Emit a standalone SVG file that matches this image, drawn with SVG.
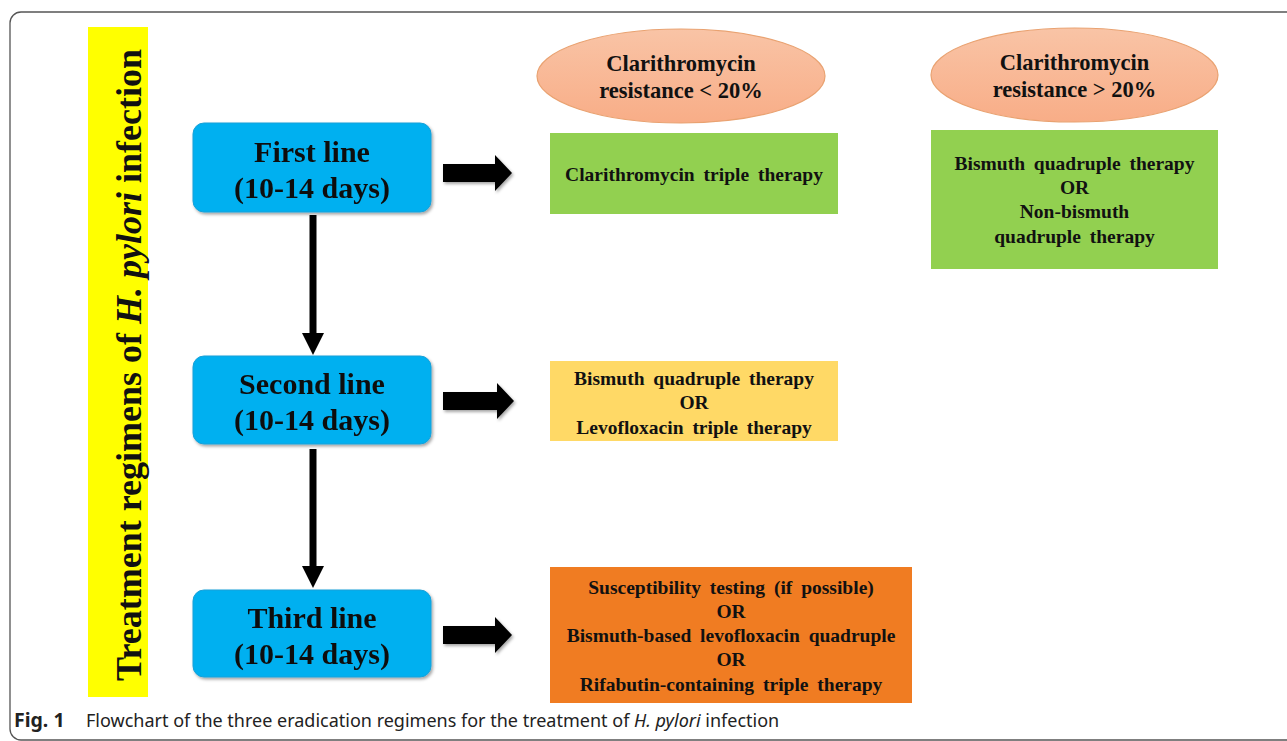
<svg xmlns="http://www.w3.org/2000/svg" width="1287" height="741" viewBox="0 0 1287 741">
<style>
.serif{font-family:"Liberation Serif","Times New Roman",serif;font-weight:bold;fill:#111;}
.line{font-size:30px;text-anchor:middle;}
.ell{font-size:22.5px;text-anchor:middle;}
.box{font-size:19.5px;text-anchor:middle;word-spacing:4px;}
.blue{fill:#00B0F0;stroke:#1aa0d8;stroke-width:1;}
.cap{font-family:"Noto Sans","Open Sans",sans-serif;font-size:18px;fill:#222;}
</style>
<defs>
<linearGradient id="salmon" x1="0" y1="0" x2="0" y2="1">
<stop offset="0" stop-color="#F9C4A6"/>
<stop offset="1" stop-color="#F8AD87"/>
</linearGradient>
<filter id="sh" x="-10%" y="-10%" width="130%" height="130%">
<feDropShadow dx="1.5" dy="2" stdDeviation="1.5" flood-color="#000" flood-opacity="0.35"/>
</filter>
</defs>
<rect x="0" y="0" width="1287" height="741" fill="#fff"/>
<rect x="10" y="12" width="1300" height="728" rx="11" fill="none" stroke="#555" stroke-width="1.3"/>

<g id="sidebar">
<rect x="88" y="27" width="60" height="670" fill="#FFFF00"/>
<text class="serif" font-size="36" text-anchor="middle" transform="translate(141,365) rotate(-90)">Treatment regimens of <tspan font-style="italic">H. pylori</tspan> infection</text>
</g>

<g id="first-line" filter="url(#sh)">
<rect class="blue" x="193" y="123" width="238" height="89" rx="11"/>
<text class="serif line" x="312" y="162">First line</text>
<text class="serif line" x="312" y="198">(10-14 days)</text>
</g>
<g id="second-line" filter="url(#sh)">
<rect class="blue" x="193" y="356" width="238" height="88" rx="11"/>
<text class="serif line" x="312" y="394">Second line</text>
<text class="serif line" x="312" y="430">(10-14 days)</text>
</g>
<g id="third-line" filter="url(#sh)">
<rect class="blue" x="193" y="590" width="238" height="87" rx="11"/>
<text class="serif line" x="312" y="628">Third line</text>
<text class="serif line" x="312" y="664">(10-14 days)</text>
</g>

<g id="ellipse-low">
<ellipse cx="681" cy="76" rx="144" ry="47" fill="url(#salmon)" stroke="#E9A271" stroke-width="1.2"/>
<text class="serif ell" x="681" y="71">Clarithromycin</text>
<text class="serif ell" x="681" y="98">resistance &lt; 20%</text>
</g>
<g id="ellipse-high">
<ellipse cx="1074.5" cy="75" rx="143.5" ry="47" fill="url(#salmon)" stroke="#E9A271" stroke-width="1.2"/>
<text class="serif ell" x="1074.5" y="70">Clarithromycin</text>
<text class="serif ell" x="1074.5" y="97">resistance &gt; 20%</text>
</g>

<g id="first-low">
<rect x="550" y="133" width="288" height="81" fill="#92D050"/>
<text class="serif box" x="694" y="181">Clarithromycin triple therapy</text>
</g>
<g id="first-high">
<rect x="931" y="130" width="287" height="139" fill="#92D050"/>
<text class="serif box" x="1074.5" y="170">Bismuth quadruple therapy</text>
<text class="serif box" x="1074.5" y="194">OR</text>
<text class="serif box" x="1074.5" y="218">Non-bismuth</text>
<text class="serif box" x="1074.5" y="243">quadruple therapy</text>
</g>
<g id="second-regimen">
<rect x="550" y="361" width="288" height="80" fill="#FFD966"/>
<text class="serif box" x="694" y="385">Bismuth quadruple therapy</text>
<text class="serif box" x="694" y="409">OR</text>
<text class="serif box" x="694" y="434">Levofloxacin triple therapy</text>
</g>
<g id="third-regimen">
<rect x="550" y="567" width="362" height="136" fill="#F07C22"/>
<text class="serif box" x="731" y="594">Susceptibility testing (if possible)</text>
<text class="serif box" x="731" y="618">OR</text>
<text class="serif box" x="731" y="642">Bismuth-based levofloxacin quadruple</text>
<text class="serif box" x="731" y="666">OR</text>
<text class="serif box" x="731" y="691">Rifabutin-containing triple therapy</text>
</g>

<g id="connectors">
<line x1="313" y1="215" x2="313" y2="334" stroke="#000" stroke-width="7"/>
<polygon points="302,333 324,333 313,355" fill="#000"/>
<line x1="313" y1="449" x2="313" y2="567" stroke="#000" stroke-width="7"/>
<polygon points="302,566 324,566 313,588" fill="#000"/>
<g filter="url(#sh)">
<path d="M443,164 H495 V155 L512,173 L495,191 V182 H443 Z" fill="#000"/>
<path d="M443,392 H497 V383 L514,401 L497,419 V410 H443 Z" fill="#000"/>
<path d="M443,626 H495 V617 L512,635 L495,653 V644 H443 Z" fill="#000"/>
</g>
</g>

<g id="caption">
<text class="cap" x="14" y="727"><tspan font-weight="bold" font-size="19.5">Fig. 1</tspan><tspan x="86">Flowchart of the three eradication regimens for the treatment of </tspan><tspan font-style="italic">H. pylori</tspan> infection</text>
</g>
</svg>
